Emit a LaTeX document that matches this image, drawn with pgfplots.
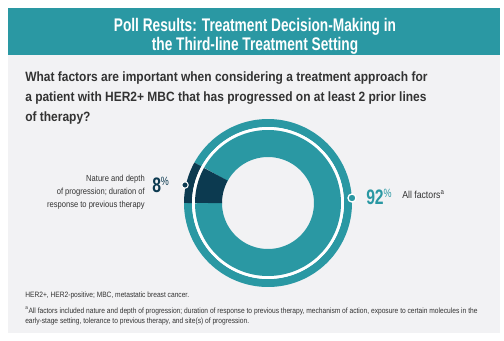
\documentclass[border=0pt]{standalone}
\usepackage{pgfplots}
\pgfplotsset{compat=1.18}
\usepackage{fontspec}
\setmainfont{Liberation Sans}
\newfontfamily\cond[FakeStretch=0.75]{Liberation Sans}
\newfontfamily\condb[FakeStretch=0.86]{Liberation Sans}
\newfontfamily\condq[FakeStretch=0.89]{Liberation Sans}
\definecolor{teal1}{HTML}{2A98A3}
\definecolor{navy}{HTML}{0C3A50}
\definecolor{bg}{HTML}{F2F2F4}
\definecolor{txt}{HTML}{333333}
\begin{document}
\begin{tikzpicture}
% poll data (percent)
\def\valNature{8}
\def\valAll{92}
\pgfmathsetmacro{\angA}{180-3.6*\valNature}
\begin{axis}[scale only axis, width=378pt, height=255pt,
  xmin=0, xmax=504, ymin=0, ymax=340, y dir=reverse,
  hide axis, clip=false]
\fill[white] (axis cs:0,0) rectangle (axis cs:504,340);
\fill[bg] (axis cs:8,55) rectangle (axis cs:500,333);
\fill[teal1] (axis cs:8,8) rectangle (axis cs:500,55);
% title
\node[anchor=base, text=white, font=\cond\bfseries\fontsize{13.7}{14}\selectfont] at (axis cs:255,31) {Poll Results: Treatment Decision-Making in};
\node[anchor=base, text=white, font=\cond\bfseries\fontsize{13.7}{14}\selectfont] at (axis cs:255,50) {the Third-line Treatment Setting};
% question
\node[anchor=base west, inner sep=0pt, text=txt, font=\condq\bfseries\fontsize{10.1}{11}\selectfont] at (axis cs:25,81) {What factors are important when considering a treatment approach for};
\node[anchor=base west, inner sep=0pt, text=txt, font=\condq\bfseries\fontsize{10.1}{11}\selectfont] at (axis cs:25,101) {a patient with HER2+ MBC that has progressed on at least 2 prior lines};
\node[anchor=base west, inner sep=0pt, text=txt, font=\condq\bfseries\fontsize{10.1}{11}\selectfont] at (axis cs:25,121) {of therapy?};
% donut: outer ring
\addplot[teal1, line width=6pt, domain=-180:\angA, samples=150, variable=\t] ({268+80*cos(\t)}, {203-80*sin(\t)});
\addplot[navy, line width=6pt, domain=\angA:180, samples=20, variable=\t] ({268+80*cos(\t)}, {203-80*sin(\t)});
% white separator
\addplot[white, line width=2.25pt, domain=0:360, samples=150, variable=\t] ({268+74.5*cos(\t)}, {203-74.5*sin(\t)});
% inner ring
\addplot[teal1, line width=20.25pt, domain=-180:\angA, samples=150, variable=\t] ({268+59.5*cos(\t)}, {203-59.5*sin(\t)});
\addplot[navy, line width=20.25pt, domain=\angA:180, samples=20, variable=\t] ({268+59.5*cos(\t)}, {203-59.5*sin(\t)});
% dots
\addplot[only marks, mark=*, mark size=2.4pt, mark options={fill=navy, draw=white, line width=0.8pt}] coordinates {(185,185)};
\addplot[only marks, mark=*, mark size=3pt, mark options={fill=teal1, draw=white, line width=1pt}] coordinates {(352,198)};
% labels
\node[anchor=base east, inner sep=0pt, text=txt, font=\condb\fontsize{6.6}{7}\selectfont] at (axis cs:145,181) {Nature and depth};
\node[anchor=base east, inner sep=0pt, text=txt, font=\condb\fontsize{6.6}{7}\selectfont] at (axis cs:145,194) {of progression; duration of};
\node[anchor=base east, inner sep=0pt, text=txt, font=\condb\fontsize{6.6}{7}\selectfont] at (axis cs:145,207) {response to previous therapy};
\node[anchor=base west, inner sep=0pt, text=navy, font=\cond\bfseries\fontsize{15.7}{16}\selectfont] at (axis cs:152,192) {\valNature\raisebox{4.6pt}{\fontsize{9}{9}\selectfont\mdseries\%}};
\node[anchor=base west, inner sep=0pt, text=teal1, font=\cond\bfseries\fontsize{15.7}{16}\selectfont] at (axis cs:366,204) {\valAll\raisebox{4.6pt}{\fontsize{9}{9}\selectfont\mdseries\%}};
\node[anchor=base west, inner sep=0pt, text=txt, font=\condb\fontsize{7.6}{8}\selectfont] at (axis cs:402,198) {All factors\textsuperscript{a}};
% footnotes
\node[anchor=base west, inner sep=0pt, text=txt, font=\condb\fontsize{5.8}{6}\selectfont] at (axis cs:25,297) {HER2+, HER2-positive; MBC, metastatic breast cancer.};
\node[anchor=base west, inner sep=0pt, text=txt, font=\condb\fontsize{5.8}{6}\selectfont] at (axis cs:25,313) {\textsuperscript{a}All factors included nature and depth of progression; duration of response to previous therapy, mechanism of action, exposure to certain molecules in the};
\node[anchor=base west, inner sep=0pt, text=txt, font=\condb\fontsize{5.8}{6}\selectfont] at (axis cs:25,323) {early-stage setting, tolerance to previous therapy, and site(s) of progression.};
\end{axis}
\end{tikzpicture}
\end{document}
